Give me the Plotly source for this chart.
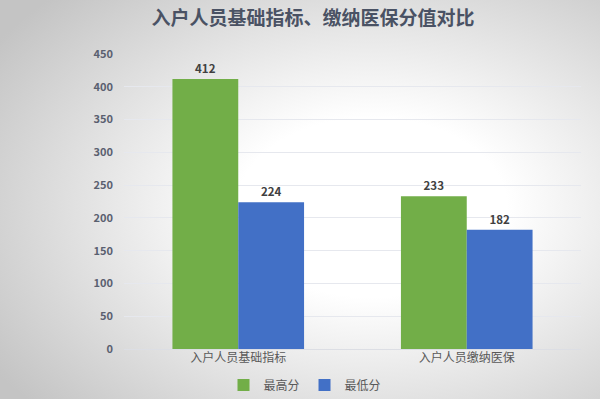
import base64
import plotly.graph_objects as go

categories = ["入户人员基础指标", "入户人员缴纳医保"]
max_scores = [412, 233]
min_scores = [224, 182]
series_names = ["最高分", "最低分"]
title_text = "入户人员基础指标、缴纳医保分值对比"

FONT = "Noto Sans CJK SC, Noto Sans, sans-serif"

svg = (
    '<svg xmlns="http://www.w3.org/2000/svg" width="600" height="399">'
    '<defs><radialGradient id="g" cx="0.62" cy="0.52" r="0.75">'
    '<stop offset="0" stop-color="#ffffff"/>'
    '<stop offset="0.3" stop-color="#ffffff"/>'
    '<stop offset="1" stop-color="#c4c4c4"/>'
    '</radialGradient></defs>'
    '<rect width="600" height="399" fill="url(#g)"/></svg>'
)
bg_uri = "data:image/svg+xml;base64," + base64.b64encode(svg.encode()).decode()

L, R, T, B = 124, 19, 54, 50
W, H = 600, 399
pw, ph = W - L - R, H - T - B

fig = go.Figure()
fig.add_trace(go.Bar(
    name=series_names[0], x=categories, y=max_scores,
    marker=dict(color="#72ae48", line=dict(width=0)),
    text=max_scores, textposition="outside",
    textfont=dict(family=FONT, size=11.5, color="#404040", weight="bold"),
    cliponaxis=False,
))
fig.add_trace(go.Bar(
    name=series_names[1], x=categories, y=min_scores,
    marker=dict(color="#4270c6", line=dict(width=0)),
    text=min_scores, textposition="outside",
    textfont=dict(family=FONT, size=11.5, color="#404040", weight="bold"),
    cliponaxis=False,
))

fig.update_layout(
    width=W, height=H,
    margin=dict(l=L, r=R, t=T, b=B, pad=0, autoexpand=False),
    paper_bgcolor="#ffffff",
    plot_bgcolor="rgba(0,0,0,0)",
    barmode="group", bargap=0.424, bargroupgap=0,
    title=dict(text=title_text, x=313 / W, xref="container", xanchor="center",
               y=1 - 18 / H, yref="container", yanchor="middle",
               font=dict(family=FONT, size=19, color="#4a5264", weight="bold")),
    font=dict(family=FONT, color="#595959"),
    xaxis=dict(showgrid=False, showline=False, ticks="",
               tickfont=dict(family=FONT, size=12, color="#595959")),
    yaxis=dict(range=[0, 450], dtick=50, showline=False, ticks="",
               gridcolor="#e6e8ee", gridwidth=1, zeroline=True,
               zerolinecolor="#dcdee4", zerolinewidth=1, ticklabelstandoff=10,
               tickfont=dict(family=FONT, size=11, color="#5a6070", weight="bold")),
    legend=dict(orientation="h", x=305 / W, xref="container", xanchor="center",
                y=1 - 385 / H, yref="container", yanchor="middle",
                font=dict(family=FONT, size=12, color="#595959"),
                bgcolor="rgba(0,0,0,0)", itemwidth=30, tracegroupgap=0),
    showlegend=True,
    images=[dict(source=bg_uri, xref="paper", yref="paper",
                 x=-L / pw, y=1 + T / ph, sizex=W / pw, sizey=H / ph,
                 xanchor="left", yanchor="top", sizing="stretch", layer="below")],
)

fig.write_html("out.html", config={"displayModeBar": False},
               post_script="document.body.style.margin='0';document.body.style.overflow='hidden';")
